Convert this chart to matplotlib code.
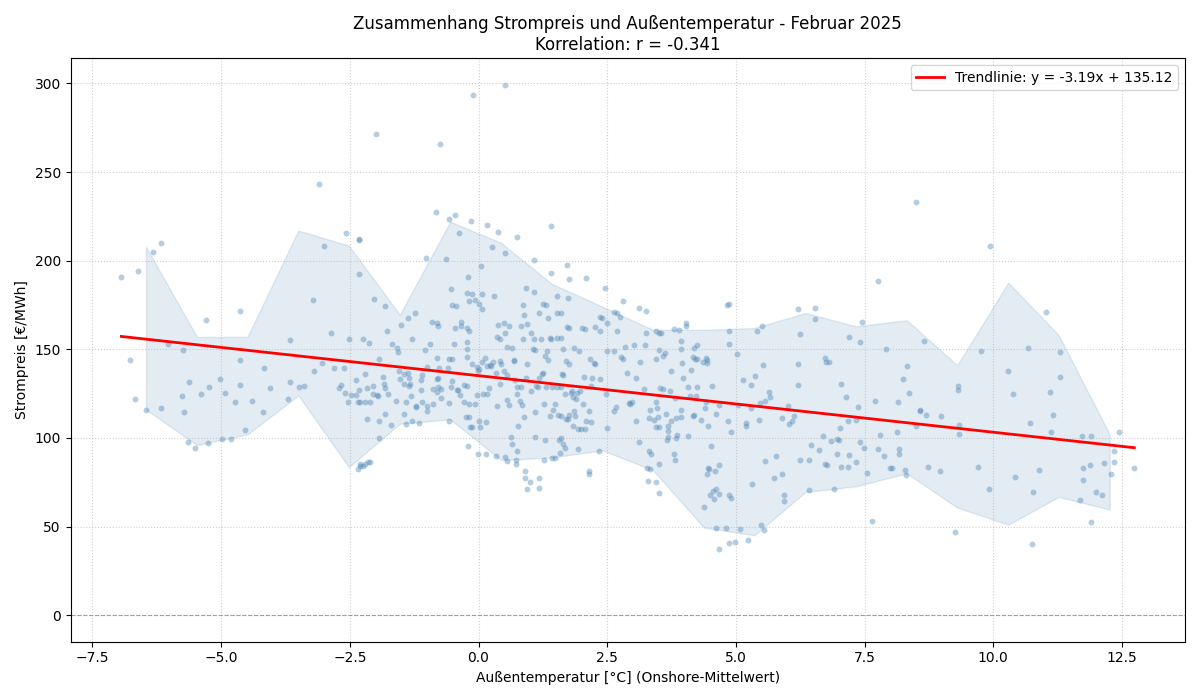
import numpy as np
import matplotlib.pyplot as plt

# hourly points (temperature °C, price €/MWh), grouped by temperature
cold_pts = [
    (-6.94, 190.6), (-6.61, 194), (-6.32, 205), (-6.17, 210), (-6.78, 144), (-6.04, 153), (-5.75, 149.6),
    (-6.67, 122), (-6.46, 116), (-6.17, 117), (-5.77, 123.7), (-5.62, 131.6), (-5.4, 125), (-5.3, 166.6),
    (-5.23, 129), (-5.03, 133), (-4.93, 125.6), (-4.73, 120.5), (-4.63, 171.5), (-4.63, 143.8), (-4.63, 129.7),
    (-4.4, 121), (-4.17, 139.5), (-4.05, 128), (-3.71, 122), (-3.66, 155.5), (-3.66, 131.6), (-3.49, 128.8),
    (-3.4, 129.5), (-3.21, 178), (-3.19, 137.8), (-3.05, 142.5), (-3.0, 208), (-2.86, 159.4), (-2.81, 139.7),
    (-2.71, 127.9), (-2.67, 129.7), (-2.62, 139.7), (-2.6, 125.6), (-2.54, 120), (-2.52, 156), (-2.47, 124),
    (-2.39, 132.5), (-2.33, 211.5), (-2.32, 192.5), (-2.32, 127), (-2.25, 155.7), (-2.2, 136), (-2.13, 153.8),
    (-2.17, 128), (-2.3, 120), (-2.2, 120), (-2.35, 120), (-2.39, 124),
    (-5.73, 114.8), (-5.64, 97.7), (-5.51, 94.5), (-5.25, 97.4), (-4.99, 99.6), (-4.81, 99.4), (-4.53, 104.7),
    (-4.18, 114.5), (-2.16, 110.5), (-2.35, 82.3), (-2.31, 84.4), (-2.24, 84), (-2.2, 85.1), (-2.15, 86.3),
    (-2.3, 85.5), (-3.09, 243.5), (-2.58, 215.6), (-2.33, 212.5), (-2.0, 271.5), (-2.1, 86.3),
    (-2.03, 178.2), (-2.05, 129.3), (-2.1, 120), (-2.05, 125),
]

cool_pts = [
    (-1.02, 201.5), (-0.63, 201), (-0.2, 190.6), (-0.54, 183.9), (-0.22, 181.8), (-0.12, 181), (-0.18, 177.3),
    (-0.06, 178), (-0.52, 175), (-0.44, 174.3), (-1.82, 174.5), (-1.5, 163.6), (-1.38, 167.9), (-1.23, 170.3),
    (-1.77, 160.6), (-1.29, 155.8), (-1.68, 153), (-1.58, 151), (-1.57, 148.3), (-1.93, 144.4), (-0.94, 153),
    (-1.04, 149.8), (-0.9, 165.6), (-0.8, 164.9), (-0.78, 163.4), (-0.48, 153.2), (-0.45, 162.2), (-0.35, 165.4),
    (-0.34, 163), (-0.23, 162.2), (-0.19, 160.4), (-0.23, 154.2), (-0.23, 150), (-0.23, 145.7), (-0.81, 144.9),
    (-0.57, 144.6), (-0.52, 144.6), (-0.59, 139.7), (-0.76, 139.7), (-1.0, 140.1), (-1.55, 137.6), (-1.45, 135.9),
    (-1.37, 136.5), (-1.86, 134.2), (-1.84, 130.3), (-1.82, 128.4), (-1.53, 133.1), (-1.45, 130.3), (-1.35, 129.2),
    (-1.33, 130.7), (-1.35, 133.9), (-1.1, 135.4), (-1.11, 132.7), (-0.81, 133.5), (-0.78, 133.9), (-0.88, 127.8),
    (-0.72, 127.8), (-0.52, 132), (-0.39, 127.3), (-0.28, 130.1), (-0.23, 129.5), (-0.13, 141.9), (-0.02, 137.6),
    (-0.03, 139.9), (-1.98, 124.5), (-1.95, 123.9), (-1.76, 124.6), (-1.6, 120.7), (-1.41, 120.3), (-1.32, 123.9),
    (-1.22, 118.1), (-1.21, 117.5), (-1.1, 120.1), (-1.0, 117.9), (-0.89, 119.4), (-0.73, 122.8), (-0.57, 119.6),
    (-0.41, 127.3), (-0.37, 124.1), (-0.28, 120.5), (-0.18, 119.2), (-0.06, 119.2), (-0.03, 124.3), (-1.11, 127.1),
    (-0.81, 126), (-0.78, 128.8), (-0.53, 128.6),
    (-0.11, 293.5), (-0.74, 266), (-0.83, 227.3), (-0.57, 223.4), (-0.45, 226), (-0.15, 222.6), (-0.38, 215.5),
    (-1.93, 109.8), (-1.82, 113.3), (-1.71, 107.3), (-1.93, 99.8), (-1.44, 113.7), (-1.41, 107.9), (-1.3, 109.4),
    (-1.15, 108.3), (-1.0, 115), (-0.57, 109.8), (-0.25, 111.7), (-0.18, 112), (-0.16, 106), (-0.12, 106),
    (-0.2, 95.5), (-0.02, 91),
]

mild_pts = [
    (0.27, 207.5), (0.51, 204.2), (0.04, 196.8), (1.07, 200.2), (1.72, 197.4), (1.41, 192.9), (1.76, 189.9),
    (2.09, 190), (2.8, 177.3), (2.45, 184.8), (0.07, 181.4), (0.3, 180.3), (0.0, 175.4), (0.06, 172.6),
    (0.93, 184.8), (1.07, 182.2), (0.86, 175.2), (1.26, 175.6), (1.32, 174.8), (1.53, 180.3), (1.73, 179.2),
    (1.17, 170.5), (0.88, 169.2), (1.52, 170.3), (1.61, 170.3), (1.35, 167.5), (0.01, 139.1), (0.07, 142.9),
    (0.12, 145.1), (0.16, 140.4), (0.24, 140.6), (0.28, 143.1), (0.33, 136.7), (0.42, 143.3), (0.44, 141.6),
    (0.49, 137.8), (0.56, 135.4), (0.42, 130.3), (0.68, 144.2), (0.69, 143.4), (0.95, 141.6), (0.2, 128.4),
    (0.38, 163.6), (0.5, 164.9), (0.6, 163.2), (0.36, 157), (0.42, 155.7), (0.51, 159.2), (0.82, 163),
    (0.94, 164.1), (1.01, 159.4), (0.87, 155.8), (1.08, 155.8), (1.21, 155.8), (1.38, 156.2), (1.41, 155.8),
    (1.53, 156.6), (1.61, 156.4), (1.72, 162.4), (1.76, 162.2), (2.01, 162.1), (2.06, 161.3), (2.27, 162.8),
    (2.36, 160.5), (2.5, 165.1), (2.35, 168.3), (2.4, 167.5), (2.64, 170.9), (2.69, 170.7), (2.75, 168.3),
    (2.69, 160.5), (2.5, 149.3), (2.64, 148.9), (2.85, 151.3), (1.86, 150.6), (1.96, 149.1), (1.65, 150.2),
    (1.33, 148.9), (1.3, 146.1), (1.35, 144), (1.06, 150), (1.09, 149.5), (0.56, 151.3), (0.65, 150.8),
    (0.23, 141), (1.7, 143.4), (1.75, 141.9), (2.16, 144.8), (2.25, 142.3), (2.27, 141.6), (2.77, 145.7),
    (2.8, 144.4), (2.88, 136.7), (1.63, 136.3), (1.64, 135.5), (1.26, 136.7), (1.23, 135.9), (1.17, 134),
    (1.11, 129.5), (1.16, 128.8), (1.31, 128.6), (1.43, 129), (1.52, 128.8), (0.93, 133.9), (0.71, 132.5),
    (0.75, 129), (0.82, 128.6), (1.01, 126.7), (0.75, 125), (0.8, 121.1), (0.84, 118.6), (1.28, 119),
    (1.48, 119.2), (1.61, 128.8), (1.68, 124.6), (1.79, 125.2), (1.81, 126.5), (1.92, 125.2), (1.97, 126.7),
    (1.83, 123.1), (1.89, 122), (2.02, 119.2), (2.05, 134.2), (2.2, 134), (2.35, 133.3), (2.19, 129.5),
    (2.47, 124.8), (2.67, 117.3), (2.92, 119.9), (0.09, 124.8), (0.17, 124.6), (0.36, 117.9), (0.56, 121.5),
    (0.6, 118.8),
    (0.51, 299.3), (0.16, 220.4), (0.38, 216.2), (0.75, 213.4), (1.41, 219.6),
    (0.0, 109.4), (0.03, 106.4), (0.14, 109.2), (0.15, 91.2), (0.34, 89.8), (0.52, 89.3), (0.55, 87),
    (0.63, 100.6), (0.65, 96.4), (0.75, 92.7), (0.73, 87.4), (0.73, 85.1), (0.77, 107), (0.88, 112),
    (0.9, 81.4), (0.91, 77.6), (0.99, 75), (0.94, 71), (1.18, 77.4), (1.17, 71.6), (1.09, 100.4),
    (1.1, 114.7), (1.28, 87.4), (1.3, 98.9), (1.43, 88.9), (1.49, 88.5), (1.39, 112.4), (1.44, 115.6),
    (1.55, 112.8), (1.6, 112.2), (1.57, 98.7), (1.61, 100.2), (1.64, 96.8), (1.68, 94.5), (1.58, 91.5),
    (1.69, 110.7), (1.74, 110.5), (1.76, 113), (1.88, 112.6), (1.83, 107), (1.86, 115.2), (1.94, 105.1),
    (2.0, 105.1), (2.07, 105.1), (2.09, 109.6), (2.18, 108.8), (2.14, 115), (1.94, 93.8), (2.14, 81.6),
    (2.14, 79.7), (2.34, 92.9), (2.5, 105.8), (2.64, 115), (2.99, 120.3), (2.95, 119),
]

warm_pts = [
    (3.12, 173.5), (3.26, 171.8), (3.26, 159), (3.02, 152.7), (3.23, 152.5), (3.45, 160.2), (3.5, 159.4),
    (3.54, 159), (3.79, 161.3), (3.9, 160.7), (4.03, 165.1), (4.03, 163.4), (3.94, 154.7), (3.94, 150.2),
    (3.5, 149.6), (3.45, 144.8), (3.58, 146.1), (3.63, 148), (4.19, 151), (4.24, 152.7), (4.16, 145.7),
    (4.2, 144.8), (4.24, 144.4), (4.42, 145.3), (4.44, 143.8), (4.36, 142.7), (4.44, 142.3), (3.96, 142.1),
    (3.14, 143.1), (3.06, 134), (3.74, 137.6), (4.12, 138.2), (3.98, 133.9), (3.21, 127.7), (3.52, 128.2),
    (3.58, 127.7), (3.72, 126.7), (4.07, 129), (4.24, 128.6), (4.54, 129.5), (3.82, 122.6), (3.45, 120.1),
    (3.34, 116), (3.47, 117.1), (3.94, 116), (4.11, 123.5), (4.23, 123.9), (4.41, 120.5), (4.4, 117.1),
    (4.68, 118.4), (4.82, 175), (4.87, 175.4), (4.86, 160.2), (4.86, 153), (5.02, 147.4), (5.13, 132.9),
    (5.3, 130.1), (5.37, 135.2), (5.52, 141), (5.41, 160.4), (5.5, 163), (5.05, 118.8), (5.29, 116.9),
    (5.47, 119.9), (5.56, 120.9), (5.64, 125.8), (5.66, 123.3), (6.01, 118), (6.2, 172.6), (6.24, 158.9),
    (6.2, 141.6), (6.21, 129.7), (6.54, 173.5), (6.53, 167.3), (6.73, 145.1), (6.75, 142.9), (6.81, 142.9),
    (7.04, 130.3), (7.14, 123.3), (7.19, 157.2), (7.41, 154), (7.44, 165.2), (7.38, 117.3), (7.71, 120.7),
    (7.76, 188.4), (7.91, 150),
    (3.06, 109.4), (3.12, 97.7), (3.32, 111.5), (3.4, 110), (3.49, 112), (3.45, 106.2), (3.5, 106),
    (3.64, 113.3), (3.68, 107), (3.68, 103.8), (3.66, 99.1), (3.68, 100.7), (3.74, 109.8), (3.83, 111.5),
    (3.83, 100), (3.86, 101.5), (3.94, 111.8), (4.06, 101.3), (4.16, 112.2), (4.19, 112.8), (4.32, 110.1),
    (4.46, 106.6), (4.51, 95.7), (4.62, 113.7), (4.84, 109.6), (4.91, 103.6), (5.19, 108.5), (5.2, 106.8),
    (5.45, 110.3), (3.32, 92.7), (3.35, 91.2), (3.5, 85.3), (3.8, 90.8), (3.82, 87.4), (3.27, 83.3),
    (3.34, 82.7), (3.3, 75.7), (3.45, 75), (3.51, 69), (4.46, 83.3), (4.47, 82.7), (4.44, 79.9),
    (4.6, 81.2), (4.68, 85), (4.38, 61.3), (4.5, 68), (4.55, 70.3), (4.61, 71), (4.58, 65.6),
    (4.68, 68.4), (4.86, 67.7), (4.9, 66), (4.62, 49.2), (4.8, 49.2), (5.08, 48.9), (4.68, 37.2),
    (4.86, 41), (4.99, 41.2), (5.24, 42.7), (5.48, 51.1), (5.54, 48.1), (5.32, 73.9), (5.56, 87),
    (5.78, 89.8), (5.73, 77.4), (5.9, 79.9), (5.93, 67.9), (5.93, 64.5), (5.89, 111.5), (6.03, 108.1),
    (6.08, 109.8), (6.13, 112.2), (6.24, 87.8), (6.42, 87.4), (6.41, 70.7), (6.46, 96.2), (6.62, 93.4),
    (6.69, 101.1), (6.73, 85.1), (6.76, 84.6), (6.84, 98.5), (6.96, 99.4), (7.01, 98.9), (6.96, 91.2),
    (6.91, 71), (7.04, 83.6), (7.17, 83.6), (7.19, 90.2), (7.18, 109.4), (7.34, 110), (7.03, 105.8),
    (7.41, 97.6), (7.48, 94.4), (7.33, 86.3), (7.54, 80.4), (7.76, 94), (7.79, 101.7), (7.88, 90),
    (7.65, 53.4), (7.99, 83.3),
]

hot_pts = [
    (8.5, 233.3), (9.94, 208.1), (8.65, 154.9), (8.33, 140.6), (8.24, 133.1), (8.36, 125.2), (8.14, 120.1),
    (8.58, 115.6), (9.31, 129.5), (9.32, 126.9), (9.77, 149.1), (10.28, 138), (10.38, 124.8), (10.67, 150.6),
    (11.02, 170.9), (11.3, 148.5), (11.3, 134.4), (11.1, 126),
    (8.58, 115), (8.69, 113), (8.98, 112.4), (8.12, 103.2), (8.49, 106.6), (8.16, 93.6), (8.16, 90.8),
    (8.03, 83.1), (8.28, 82), (8.3, 79.3), (8.73, 83.4), (8.96, 81.6), (9.33, 107.3), (9.33, 102.1),
    (9.7, 83.4), (9.92, 71.2), (9.26, 47.2), (10.43, 78), (10.71, 108.5), (10.89, 81.8), (10.78, 69.4),
    (10.75, 40.4), (11.15, 113.2), (11.13, 103.6), (11.72, 101.1), (11.9, 100.9), (11.74, 83.1), (11.87, 84.8),
    (11.74, 76.5), (12.16, 85.7), (12.28, 79.7), (12.34, 86.5), (12.34, 92.7), (12.45, 103.6), (12.74, 83.1),
    (11.69, 64.8), (11.9, 52.8), (12.0, 69.4), (12.12, 68.0),
]

# spread band per temperature bin (bin centre, lower, upper)
band_x = [-6.46, -5.47, -4.49, -3.50, -2.52, -1.53, -0.55, 0.44, 1.42, 2.41,
          3.39, 4.38, 5.36, 6.35, 7.33, 8.32, 9.30, 10.29, 11.27, 12.26]
band_low = [116, 96, 102, 124, 83.5, 108, 110.5, 87.5, 89, 93,
            81.8, 49.4, 45.1, 69.5, 72.7, 80, 60.7, 51.1, 66.7, 59.6]
band_high = [207.7, 157, 157, 217, 208.5, 169.5, 222, 210, 187, 174,
             161, 161, 162, 170.5, 163, 166.4, 141, 187.6, 158, 102]

# trend line as given in the legend
slope = -3.19
intercept = 135.12
r_value = -0.341

pts = np.array(cold_pts + cool_pts + mild_pts + warm_pts + hot_pts)
temp = pts[:, 0]
price = pts[:, 1]

fig, ax = plt.subplots(figsize=(12, 7), dpi=100)

ax.fill_between(band_x, band_low, band_high, color='steelblue', alpha=0.15)
ax.scatter(temp, price, s=18, alpha=0.4, color='steelblue', linewidths=0)

xl = np.array([temp.min(), temp.max()])
ax.plot(xl, slope * xl + intercept, color='red', linewidth=2,
        label=f'Trendlinie: y = {slope:.2f}x + {intercept:.2f}')
ax.axhline(0, color='gray', linestyle='--', linewidth=0.8, alpha=0.7)

ax.set_title(f'Zusammenhang Strompreis und Außentemperatur - Februar 2025\nKorrelation: r = {r_value:.3f}')
ax.set_xlabel('Außentemperatur [°C] (Onshore-Mittelwert)')
ax.set_ylabel('Strompreis [€/MWh]')
ax.grid(True, linestyle=':', alpha=0.6)
ax.legend(loc='upper right')

plt.tight_layout()
plt.savefig('out.png')
